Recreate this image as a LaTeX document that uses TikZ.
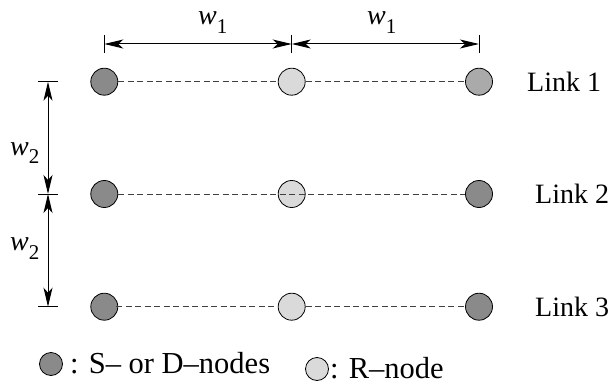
\documentclass[tikz,border=0pt]{standalone}
\usepackage{fontspec}
\setmainfont{Liberation Serif}
\usetikzlibrary{arrows.meta}
\definecolor{sdgray}{HTML}{8A8A8A}
\definecolor{midgray}{HTML}{AAAAAA}
\definecolor{rgray}{HTML}{DADADA}
\newcommand\wsub[1]{\textit{w}\raisebox{-9pt}{\fontsize{21}{21}\selectfont #1}}
\begin{document}
\begin{tikzpicture}[x=1pt,y=-1pt,
  every node/.style={font=\fontsize{28}{30}\selectfont},
  dot/.style={circle,draw=black,line width=0.8pt,minimum size=27pt,inner sep=0pt},
  sdnode/.style={dot,fill=sdgray},
  mnode/.style={dot,fill=midgray},
  rnode/.style={dot,fill=rgray},
  link/.style={dashed,dash pattern=on 6pt off 3.5pt,line width=0.7pt,draw=black!75},
  dim/.style={line width=1pt,{Stealth[length=19pt,width=9pt,inset=5pt]}-{Stealth[length=19pt,width=9pt,inset=5pt]}},
  tick/.style={line width=0.8pt},
  lbl/.style={anchor=base west,inner sep=0pt},
  leg/.style={lbl,font=\fontsize{30.5}{32}\selectfont}]
\useasboundingbox (0,0) rectangle (613,385);
% nodes
\node[sdnode] (n11) at (104.3,81.7) {};
\node[rnode]  (n12) at (291.7,81.7) {};
\node[mnode]  (n13) at (479,81.7) {};
\node[sdnode] (n21) at (104.3,194) {};
\node[rnode]  (n22) at (291.7,194) {};
\node[sdnode] (n23) at (479,194) {};
\node[sdnode] (n31) at (104.3,306.7) {};
\node[rnode]  (n32) at (291.7,306.7) {};
\node[sdnode] (n33) at (479,306.7) {};
% links
\draw[link] (n11.east) -- (n12.west);
\draw[link] (n12.east) -- (n13.west);
\draw[link] (n21.east) -- (n23.west);
\draw[link] ([xshift=-2pt]n31.east) -- (n32.west);
\draw[link] (n32.east) -- (n33.west);
% link labels
\node[lbl] (l1) at (527,92) {Link 1};
\node[lbl] (l2) at (535,203.5) {Link 2};
\node[lbl] (l3) at (535,316) {Link 3};
% horizontal dimensions
\coordinate (ha) at (104.3,44);
\coordinate (hb) at (291.7,44);
\coordinate (hc) at (479,44);
\draw[tick] (104.3,35) -- (104.3,53);
\draw[tick] (291.7,35) -- (291.7,53);
\draw[tick] (479,35) -- (479,53);
\draw[dim] (ha) -- (hb);
\draw[dim] (hb) -- (hc);
\node[lbl] (w1a) at (198,25) {\wsub{1}};
\node[lbl] (w1b) at (367,25) {\wsub{1}};
% vertical dimensions
\coordinate (va) at (48,81.7);
\coordinate (vb) at (48,194);
\coordinate (vc) at (48,306.7);
\draw[tick] (38,81.7) -- (58,81.7);
\draw[tick] (38,194) -- (58,194);
\draw[tick] (38,306.7) -- (58,306.7);
\draw[dim] (va) -- (vb);
\draw[dim] (vb) -- (vc);
\node[lbl] (w2a) at (10,155) {\wsub{2}};
\node[lbl] (w2b) at (10,250) {\wsub{2}};
% legend
\node[sdnode,minimum size=23pt] (lg1) at (51,364) {};
\node[leg] (lt1) at (70,373) {: S\textendash{} or D\textendash nodes};
\node[rnode,minimum size=23pt] (lg2) at (317,369) {};
\node[leg] (lt2) at (330,378) {: R\textendash node};
\end{tikzpicture}
\end{document}
